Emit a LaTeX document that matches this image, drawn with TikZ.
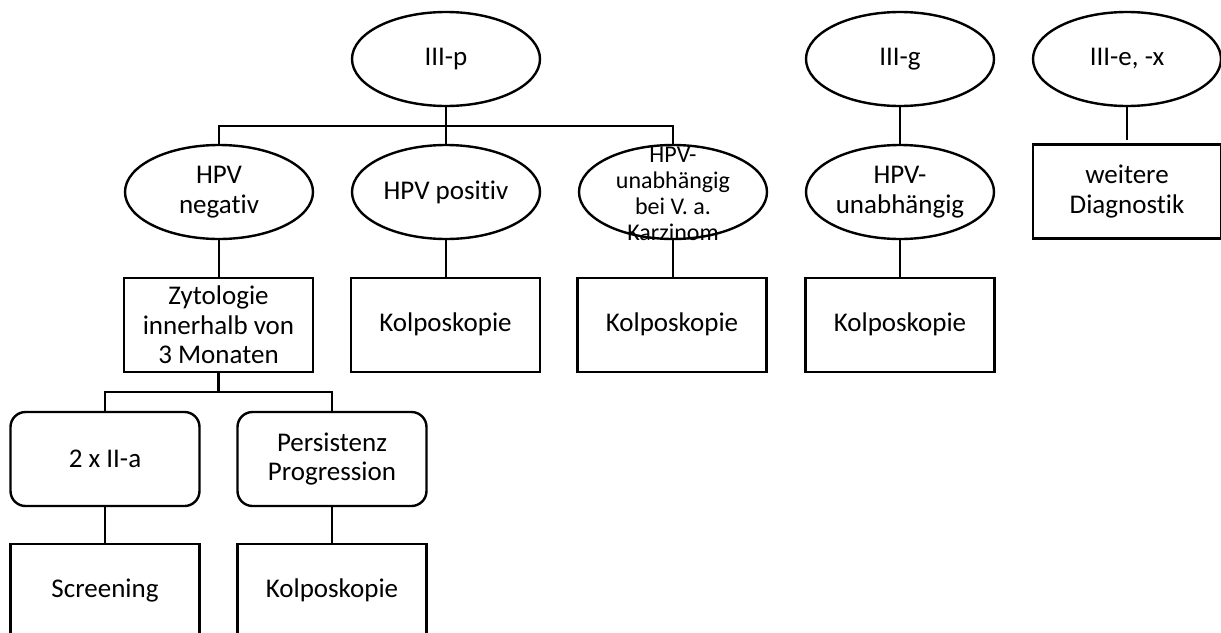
\documentclass[tikz,border=0pt]{standalone}
\usepackage{fontspec}
\setmainfont{Carlito}[Ligatures=NoCommon]
\usetikzlibrary{shapes.geometric}
\tikzset{
  base/.style={draw=black, line width=2.4pt, inner sep=0pt, outer sep=0pt, align=center,
    font=\fontsize{27}{29.5}\selectfont},
  ell/.style={base, ellipse, minimum width=188pt, minimum height=94pt},
  box/.style={base, rectangle, minimum width=189pt, minimum height=94pt},
  onebox/.style={box, text height=19pt, text depth=6pt},
  rbox/.style={box, rounded corners=15pt},
  conn/.style={draw=black, line width=2.4pt},
}
\begin{document}
\begin{tikzpicture}[x=1pt,y=-1pt]
\useasboundingbox (0,0) rectangle (1221,632);
\clip (0,0) rectangle (1221,632);
% top level
\node[ell] (IIIp) at (446,59) {III-p};
\node[ell] (IIIg) at (900,59) {III-g};
\node[ell] (IIIe) at (1127,59) {III-e, -x};
% second level
\node[ell] (hpvneg) at (219,192) {HPV\\negativ};
\node[ell] (hpvpos) at (446,192) {HPV positiv};
\node[ell] (hpvu) at (673,192) {};
\node[font=\fontsize{24}{26}\selectfont, align=center, inner sep=0pt] (hpvuT) at (673,194) {HPV-\\unabhängig\\bei V. a.\\Karzinom};
\node[ell] (hpvg) at (900,192) {HPV-\\unabhängig};
\node[box, minimum width=188pt] (weitere) at (1127,191.5) {weitere\\Diagnostik};
% third level
\node[box] (zyto) at (218.5,325) {Zytologie\\innerhalb von\\3 Monaten};
\node[onebox] (kolpo1) at (445.5,325) {Kolposkopie};
\node[onebox] (kolpo2) at (672,325) {Kolposkopie};
\node[onebox] (kolpo3) at (900,325) {Kolposkopie};
% fourth level
\node[rbox] (twoIIa) at (105,459) {2 x II-a};
\node[rbox] (persist) at (332,459) {Persistenz\\Progression};
% fifth level
\node[onebox] (screen) at (105,591) {Screening};
\node[onebox] (kolpo4) at (332,591) {Kolposkopie};
% buses
\coordinate (bus1) at (446,126);
\coordinate (bus2) at (218.5,392);
% connectors
\draw[conn] (IIIp.south) -- (bus1);
\draw[conn] (bus1) -| (hpvneg.north);
\draw[conn] (bus1) -- (hpvpos.north);
\draw[conn] (bus1) -| (hpvu.north);
\draw[conn] (IIIg.south) -- (hpvg.north);
\draw[conn, shorten >=5pt] (IIIe.south) -- (weitere.north);
\draw[conn] (hpvneg.south) -- (hpvneg.south |- zyto.north);
\draw[conn] (hpvpos.south) -- (hpvpos.south |- kolpo1.north);
\draw[conn] (hpvu.south) -- (hpvu.south |- kolpo2.north);
\draw[conn] (hpvg.south) -- (kolpo3.north);
\draw[conn] (zyto.south) -- (bus2);
\draw[conn] (bus2) -| (twoIIa.north);
\draw[conn] (bus2) -| (persist.north);
\draw[conn] (twoIIa.south) -- (screen.north);
\draw[conn] (persist.south) -- (kolpo4.north);
\end{tikzpicture}
\end{document}
